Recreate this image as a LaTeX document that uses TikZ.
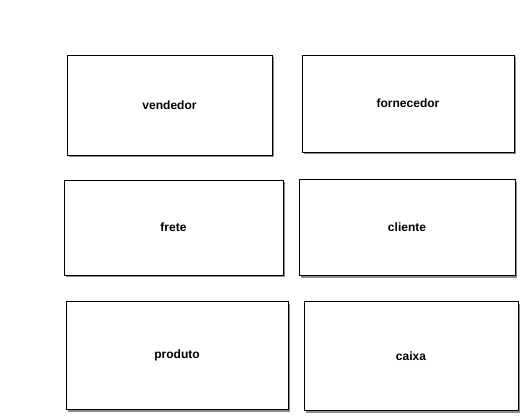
\documentclass[tikz,border=0pt]{standalone}
\usepackage{fontspec}
\setmainfont{Liberation Sans}
\usetikzlibrary{shadows}
\tikzset{
  ent/.style={draw=black, line width=1pt, fill=white, font=\fontsize{12}{14}\selectfont\bfseries,
    inner sep=0pt, anchor=north west,
    drop shadow={shadow xshift=2pt, shadow yshift=-2pt, fill=black!45, opacity=1}},
}
\begin{document}
\begin{tikzpicture}[x=1pt,y=-1pt]
\useasboundingbox (0,0) rectangle (522,416);
\node[ent, minimum width=205pt, minimum height=100pt] (vendedor) at (66.5,54.5) {vendedor};
\node[ent, minimum width=212pt, minimum height=97pt] (fornecedor) at (301.5,54.5) {fornecedor};
\node[ent, minimum width=219pt, minimum height=95pt] (frete) at (63.5,179.5) {frete};
\node[ent, minimum width=216pt, minimum height=96pt] (cliente) at (298.5,179) {cliente};
\node[ent, minimum width=222pt, minimum height=108pt] (produto) at (65.5,301) {produto};
\node[ent, minimum width=214pt, minimum height=109pt] (caixa) at (303.5,301) {caixa};
\end{tikzpicture}
\end{document}
